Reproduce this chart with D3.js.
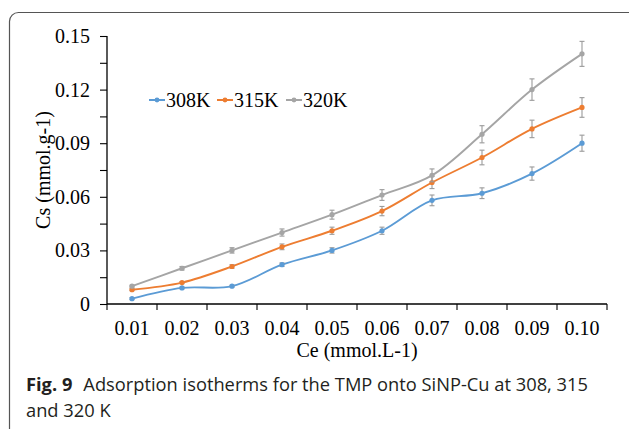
<!DOCTYPE html>
<html><head><meta charset="utf-8">
<script src="https://cdn.jsdelivr.net/npm/d3@7/dist/d3.min.js"></script>
<style>
html,body{margin:0;padding:0;background:#fff;}
svg{display:block;}
</style></head>
<body>
<svg id="chart" width="629" height="429"></svg>
<script>
const categories = ["0.01","0.02","0.03","0.04","0.05","0.06","0.07","0.08","0.09","0.10"];
const seriesNames = ["308K","315K","320K"];
const values308 = [0.003,0.009,0.010,0.022,0.030,0.041,0.058,0.062,0.073,0.090];
const values315 = [0.008,0.012,0.021,0.032,0.041,0.052,0.068,0.082,0.098,0.110];
const values320 = [0.010,0.020,0.030,0.040,0.050,0.061,0.072,0.095,0.120,0.140];
const errors308 = [0.0005,0.0005,0.0005,0.001,0.0015,0.002,0.003,0.003,0.0037,0.0045];
const errors315 = [0.0005,0.0006,0.001,0.0016,0.002,0.0026,0.0034,0.0041,0.0049,0.0055];
const errors320 = [0.0005,0.001,0.0015,0.002,0.0025,0.003,0.0036,0.0048,0.006,0.007];
const yTickValues = [0,0.015,0.03,0.045,0.06,0.075,0.09,0.105,0.12,0.135,0.15];
const yTickLabels = ["0","0.03","0.06","0.09","0.12","0.15"];
const colors = ["#5B9BD5","#ED7D31","#A5A5A5"];
const serif = "'Liberation Serif', 'Times New Roman', serif";
const sans = "'Open Sans', 'Noto Sans', sans-serif";

const svg = d3.select("#chart");
const plot = {left:107, right:607, top:36, bottom:304};

// frame
svg.append("rect").attr("x",9.5).attr("y",12.5).attr("width",640).attr("height",425)
  .attr("rx",9).attr("fill","none").attr("stroke","#555").attr("stroke-width",1.2);

const x = d3.scaleBand().domain(categories).range([plot.left, plot.right]);
const y = d3.scaleLinear().domain([0,0.15]).range([plot.bottom, plot.top]);

// y axis
const yAxis = d3.axisLeft(y).tickValues(yTickValues).tickSize(7).tickPadding(10)
  .tickFormat(d => { const l = yTickLabels.find(t => Math.abs(+t - d) < 1e-9); return l === undefined ? "" : l; });
const gy = svg.append("g").attr("transform",`translate(${plot.left},0)`).call(yAxis);
gy.select(".domain").attr("stroke","#000").attr("stroke-width",1.3).attr("d",`M-0,${plot.top}V${plot.bottom}`);
gy.selectAll(".tick line").attr("stroke","#000").attr("stroke-width",1.1);
gy.selectAll("text").attr("font-family",serif).attr("font-size",20).attr("fill","#000");

// x axis
const xAxis = d3.axisBottom(x).tickSize(0).tickPadding(17);
const gx = svg.append("g").attr("transform",`translate(0,${plot.bottom})`).call(xAxis);
gx.select(".domain").attr("stroke","#000").attr("stroke-width",1.3).attr("d",`M${plot.left},0H${plot.right}`);
gx.selectAll("text").attr("font-family",serif).attr("font-size",20).attr("fill","#000").attr("dy","0.71em");
// boundary ticks
const bounds = categories.map(c => x(c)).concat([x(categories[categories.length-1]) + x.bandwidth()]);
gx.selectAll(".bt").data(bounds).enter().append("line").attr("class","bt")
  .attr("x1",d=>d).attr("x2",d=>d).attr("y1",0).attr("y2",6).attr("stroke","#000").attr("stroke-width",1.1);

// axis titles
svg.append("text").attr("x",(plot.left+plot.right)/2).attr("y",357)
  .attr("text-anchor","middle").attr("font-family",serif).attr("font-size",20).text("Ce (mmol.L-1)");
svg.append("text").attr("transform",`translate(50,${(plot.top+plot.bottom)/2}) rotate(-90)`)
  .attr("text-anchor","middle").attr("font-family",serif).attr("font-size",20).text("Cs (mmol.g-1)");

// series
const allValues = [values308, values315, values320];
const allErrors = [errors308, errors315, errors320];
const cx = c => x(c) + x.bandwidth()/2;
const line = d3.line().x(d=>cx(d.c)).y(d=>y(d.v)).curve(d3.curveCatmullRom.alpha(0.5));

allValues.forEach((vals, i) => {
  const data = categories.map((c,j)=>({c, v: vals[j], e: allErrors[i][j]}));
  const g = svg.append("g");
  g.append("path").datum(data).attr("d",line).attr("fill","none").attr("stroke",colors[i]).attr("stroke-width",1.9);
  // error bars
  const eb = g.selectAll(".eb").data(data).enter().append("g").attr("stroke","#9a9a9a").attr("stroke-width",1.1);
  eb.append("line").attr("x1",d=>cx(d.c)).attr("x2",d=>cx(d.c)).attr("y1",d=>y(d.v+d.e)).attr("y2",d=>y(d.v-d.e));
  eb.append("line").attr("x1",d=>cx(d.c)-2.5).attr("x2",d=>cx(d.c)+2.5).attr("y1",d=>y(d.v+d.e)).attr("y2",d=>y(d.v+d.e));
  eb.append("line").attr("x1",d=>cx(d.c)-2.5).attr("x2",d=>cx(d.c)+2.5).attr("y1",d=>y(d.v-d.e)).attr("y2",d=>y(d.v-d.e));
  g.selectAll("circle").data(data).enter().append("circle")
    .attr("cx",d=>cx(d.c)).attr("cy",d=>y(d.v)).attr("r",2.6).attr("fill",colors[i]);
});

// legend
const legendX = [149, 217, 286];
seriesNames.forEach((name,i)=>{
  const g = svg.append("g").attr("transform",`translate(${legendX[i]},100)`);
  g.append("line").attr("x1",0).attr("x2",16).attr("y1",0).attr("y2",0).attr("stroke",colors[i]).attr("stroke-width",2);
  g.append("circle").attr("cx",8).attr("cy",0).attr("r",2.4).attr("fill",colors[i]);
  g.append("text").attr("x",17).attr("y",7).attr("font-family",serif).attr("font-size",20).text(name);
});

// caption
const cap = svg.append("text").attr("x",26).attr("y",391).attr("font-family",sans).attr("font-size",18.3).attr("fill","#231f20");
cap.append("tspan").attr("font-weight","bold").text("Fig. 9");
cap.append("tspan").attr("dx",11).text("Adsorption isotherms for the TMP onto SiNP-Cu at 308, 315");
svg.append("text").attr("x",26).attr("y",417).attr("font-family",sans).attr("font-size",18.3).attr("fill","#231f20").text("and 320 K");
</script>
</body></html>
